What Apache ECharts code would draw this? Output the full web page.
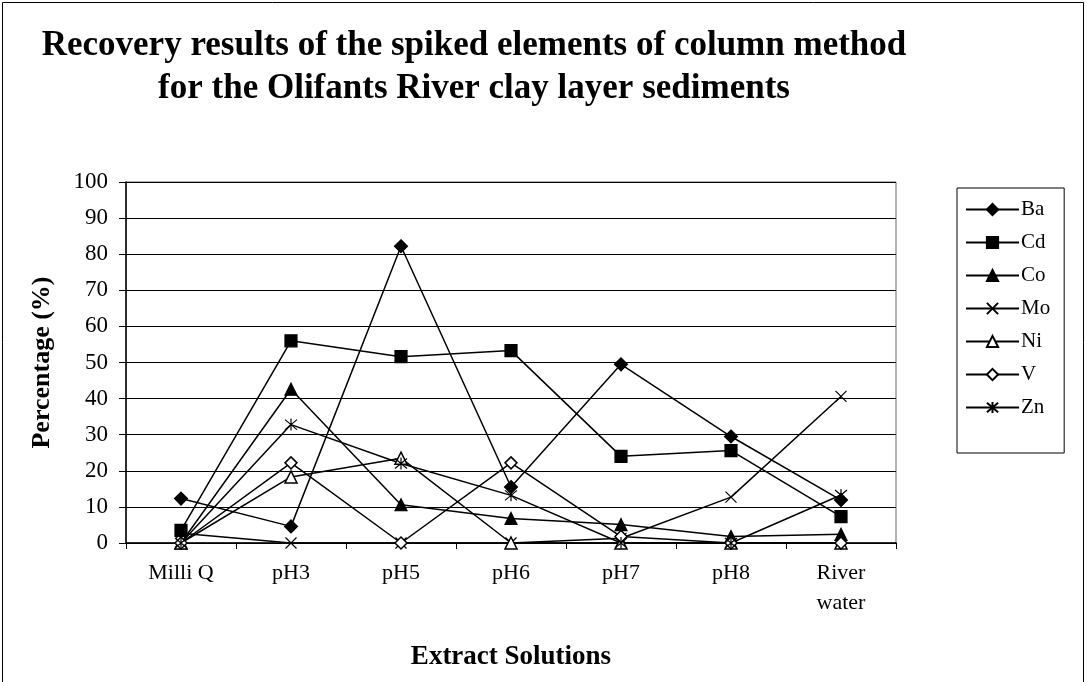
<!DOCTYPE html>
<html>
<head>
<meta charset="utf-8">
<script src="https://cdn.jsdelivr.net/npm/echarts@6/dist/echarts.min.js"></script>
<style>
  html, body { margin: 0; padding: 0; background: #fff; }
  #chart { width: 1087px; height: 682px; }
</style>
</head>
<body>
<div id="chart"></div>
<script>
// extract solutions on the x axis
const categories = ['Milli Q', 'pH3', 'pH5', 'pH6', 'pH7', 'pH8', 'River\nwater'];

// recovery (%) per element
const ba = [12.3, 4.6, 82.2, 15.5, 49.5, 29.5, 11.9];
const cd = [3.5, 56.0, 51.6, 53.3, 24.0, 25.6, 7.3];
const co = [0, 42.6, 10.6, 6.8, 5.1, 1.8, 2.4];
const mo = [2.7, 0, 0, 0, 1.3, 12.7, 40.6];
const ni = [0, 18.3, 23.5, 0, 0, 0, 0];
const v = [0, 22.2, 0, 22.2, 1.8, 0, 0];
const zn = [0, 32.8, 22.0, 13.2, 0, 0, 13.3];

const yTicks = { min: 0, max: 100, interval: 10 };

const FONT = '"Liberation Serif", "Times New Roman", serif';
const CROSS = 'path://M0,0L10,10M10,0L0,10';
const STAR = 'path://M0,0L10,10M10,0L0,10M5,-1L5,11';

const chart = echarts.init(document.getElementById('chart'));

const mk = (name, data, symbol, size, open) => ({
  name,
  type: 'line',
  data,
  symbol,
  symbolSize: size,
  lineStyle: { color: '#000', width: 1.5 },
  itemStyle: open
    ? { color: '#fff', borderColor: '#000', borderWidth: 1.5 }
    : { color: '#000', borderColor: '#000', borderWidth: 1.2 },
  emphasis: { disabled: true },
  z: 3
});

chart.setOption({
  animation: false,
  backgroundColor: '#fff',
  textStyle: { fontFamily: FONT, color: '#000' },
  graphic: [
    {
      type: 'rect',
      shape: { x: 2.5, y: 2.5, width: 1081, height: 720 },
      style: { fill: 'none', stroke: '#000', lineWidth: 1 },
      silent: true
    },
    {
      type: 'text',
      x: 474,
      y: 24,
      style: {
        text: 'Recovery results of the spiked elements of column method\nfor the Olifants River clay layer sediments',
        font: 'bold 35px ' + FONT,
        textAlign: 'center',
        lineHeight: 43,
        fill: '#000'
      }
    }
  ],
  grid: {
    left: 126, right: 191, top: 182, bottom: 139,
    show: true, borderColor: '#666', borderWidth: 1
  },
  legend: {
    orient: 'vertical',
    left: 957,
    top: 188,
    itemWidth: 53,
    itemHeight: 14,
    itemGap: 12,
    padding: [11, 14, 35, 8],
    borderColor: '#000',
    borderWidth: 1,
    textStyle: { fontFamily: FONT, fontSize: 21, color: '#000', padding: [0, 0, 0, -3] },
    data: ['Ba', 'Cd', 'Co', 'Mo', 'Ni', 'V', 'Zn']
  },
  xAxis: {
    type: 'category',
    data: categories,
    boundaryGap: true,
    name: 'Extract Solutions',
    nameLocation: 'middle',
    nameGap: 101,
    nameTextStyle: { fontFamily: FONT, fontSize: 27, fontWeight: 'bold', color: '#000' },
    axisLine: { lineStyle: { color: '#000', width: 1.5 } },
    axisTick: { show: true, length: 6, lineStyle: { color: '#000' } },
    axisLabel: { fontFamily: FONT, fontSize: 22, color: '#000', margin: 15, lineHeight: 30 },
    splitLine: { show: false }
  },
  yAxis: {
    type: 'value',
    min: yTicks.min,
    max: yTicks.max,
    interval: yTicks.interval,
    name: 'Percentage (%)',
    nameLocation: 'middle',
    nameGap: 71,
    nameTextStyle: { fontFamily: FONT, fontSize: 26, fontWeight: 'bold', color: '#000' },
    axisLine: { show: true, lineStyle: { color: '#000', width: 1.5 } },
    axisTick: { show: true, length: 7, lineStyle: { color: '#000' } },
    axisLabel: { fontFamily: FONT, fontSize: 23, color: '#000', margin: 18 },
    splitLine: { show: true, lineStyle: { color: '#000', width: 1 } }
  },
  series: [
    mk('Ba', ba, 'diamond', 13, false),
    mk('Cd', cd, 'rect', 12, false),
    mk('Co', co, 'triangle', 12, false),
    mk('Mo', mo, CROSS, 11, false),
    mk('Ni', ni, 'triangle', 12, true),
    mk('V', v, 'diamond', 12, true),
    mk('Zn', zn, STAR, 12, false)
  ]
});
</script>
</body>
</html>
